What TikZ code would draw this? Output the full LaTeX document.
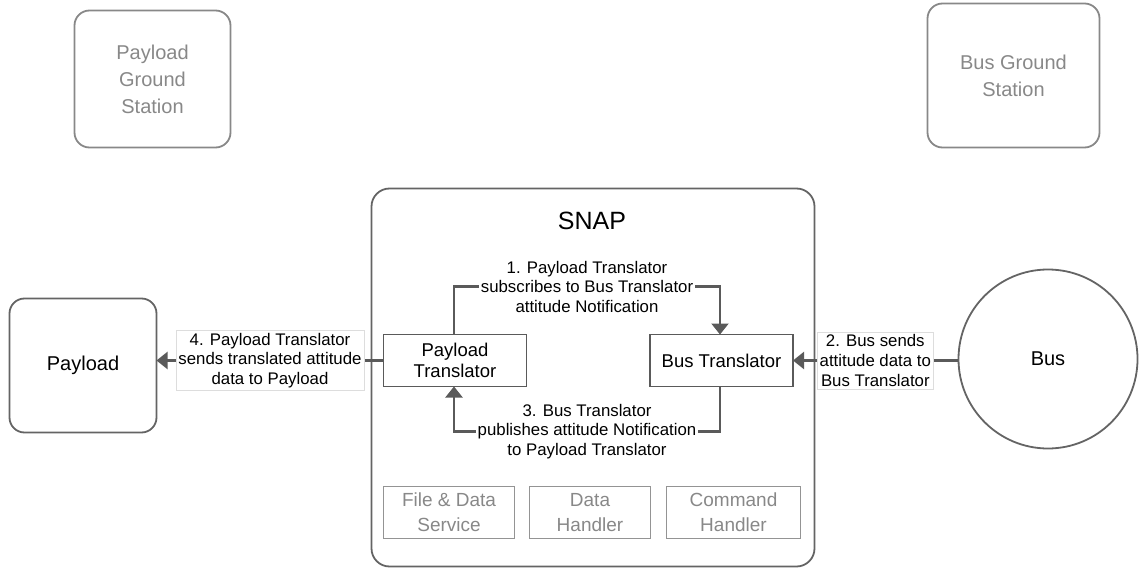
\documentclass[tikz,border=0pt]{standalone}
\usepackage{fontspec}
\setmainfont{Liberation Sans}
\usetikzlibrary{arrows.meta}

\definecolor{edgegrey}{HTML}{5A5A5A}
\definecolor{boxgrey}{HTML}{646464}
\definecolor{softgrey}{HTML}{888888}
\definecolor{labgrey}{HTML}{DDDDDD}

\newcommand{\fsz}[2]{\fontsize{#1}{#2}\selectfont}

\tikzset{
  groundbox/.style={draw=softgrey, line width=1.8pt, rounded corners=15pt,
    text=softgrey, align=center, font=\fsz{20}{27}, inner sep=0pt, outer sep=0pt},
  endbox/.style={draw=boxgrey, line width=1.8pt, rounded corners=15pt,
    align=center, font=\fsz{20}{24}, inner sep=0pt, outer sep=0pt},
  transbox/.style={draw=edgegrey, line width=1.8pt, align=center,
    font=\fsz{18.5}{20.5}, inner sep=0pt, outer sep=0pt,
    minimum width=143pt, minimum height=52pt},
  servbox/.style={draw=softgrey!90, line width=1.7pt, align=center, text=softgrey,
    font=\fsz{19}{25}, inner sep=0pt, outer sep=0pt, minimum height=52pt},
  conn/.style={draw=edgegrey, line width=2.2pt,
    -{Triangle[length=11pt,width=17pt]}},
  steplab/.style={fill=white, align=center, font=\fsz{16.8}{19.5}, inner sep=2pt},
  boxlab/.style={fill=white, draw=labgrey, line width=0.8pt, align=center,
    font=\fsz{16.8}{19.8}, inner sep=2.5pt},
}

\begin{document}
\begin{tikzpicture}[x=1pt,y=-1pt]
\useasboundingbox (0,0) rectangle (1139,569);

% ground stations
\node[groundbox, minimum width=156pt, minimum height=137pt] (pgs) at (152.5,79)
  {Payload\\Ground\\Station};
\node[groundbox, minimum width=172pt, minimum height=144pt] (bgs) at (1013.5,75.5)
  {Bus Ground\\Station};

% SNAP container
\node[draw=boxgrey, line width=1.8pt, rounded corners=18pt, inner sep=0pt,
  minimum width=443pt, minimum height=378pt] (snap) at (593,377.5) {};
\node[font=\fsz{25}{28}, inner sep=0pt] (snaptitle) at (592,221) {SNAP};

% translators
\node[transbox] (pt) at (455,360.5) {Payload\\Translator};
\node[transbox] (bt) at (721.5,360.5) {Bus Translator};

% services
\node[servbox, minimum width=131pt] (fds) at (449,512.5) {File \& Data\\Service};
\node[servbox, minimum width=121pt] (dh) at (590,512.5) {Data\\Handler};
\node[servbox, minimum width=134pt] (ch) at (733.5,512.5) {Command\\Handler};

% payload and bus
\node[endbox, minimum width=147pt, minimum height=134pt] (payload) at (83,365.5) {Payload};
\node[draw=boxgrey, line width=1.8pt, circle, minimum size=179pt, inner sep=0pt,
  font=\fsz{20}{24}] (bus) at (1048,359) {Bus};

% message flow
\draw[conn] ([xshift=-1pt]pt.north) -- ++(0,-48)
  -| node[pos=0.25, steplab]
  {1. Payload Translator\\subscribes to Bus Translator\\attitude Notification}
  ([xshift=-1.5pt]bt.north);
\draw[conn] (bus.west |- bt.east) --
  node[boxlab] {2. Bus sends\\attitude data to\\Bus Translator} (bt.east);
\draw[conn] ([xshift=-1.5pt]bt.south) -- ++(0,45)
  -| node[pos=0.25, steplab]
  {3. Bus Translator\\publishes attitude Notification\\to Payload Translator}
  ([xshift=-1pt]pt.south);
\draw[conn] (pt.west) --
  node[boxlab] {4. Payload Translator\\sends translated attitude\\data to Payload}
  (payload.east |- pt.west);
\end{tikzpicture}
\end{document}
